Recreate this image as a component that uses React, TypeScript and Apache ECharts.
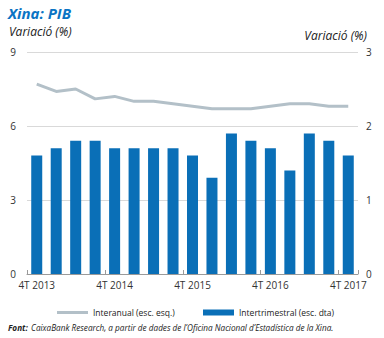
import React, { useEffect, useRef } from "react";
import * as echarts from "echarts";

const categories = [
  "4T 2013", "1T 2014", "2T 2014", "3T 2014", "4T 2014",
  "1T 2015", "2T 2015", "3T 2015", "4T 2015",
  "1T 2016", "2T 2016", "3T 2016", "4T 2016",
  "1T 2017", "2T 2017", "3T 2017", "4T 2017",
];
const interanual = [7.7, 7.4, 7.5, 7.1, 7.2, 7.0, 7.0, 6.9, 6.8, 6.7, 6.7, 6.7, 6.8, 6.9, 6.9, 6.8, 6.8];
const intertrimestral = [1.6, 1.7, 1.8, 1.8, 1.7, 1.7, 1.7, 1.7, 1.6, 1.3, 1.9, 1.8, 1.7, 1.4, 1.9, 1.8, 1.6];
const leftTicks = [0, 3, 6, 9];
const rightTicks = [0, 1, 2, 3];

const FONT = "'Liberation Sans Narrow', 'Open Sans', sans-serif";

export default function App() {
  const ref = useRef<HTMLDivElement>(null);
  useEffect(() => {
    if (!ref.current) return;
    const chart = echarts.init(ref.current, null, { renderer: "svg" });
    chart.setOption({
      animation: false,
      backgroundColor: "#ffffff",
      textStyle: { fontFamily: FONT },
      grid: { left: 27, right: 26, top: 52, bottom: 64, containLabel: false },
      legend: [
        {
          data: ["Interanual (esc. esq.)"],
          left: 52,
          top: 303,
          icon: "rect",
          itemWidth: 31,
          itemHeight: 3,
          itemGap: 6,
          textStyle: { fontSize: 8.5, color: "#222", fontFamily: FONT },
          selectedMode: false,
        },
        {
          data: ["Intertrimestral (esc. dta)"],
          left: 198,
          top: 303,
          icon: "rect",
          itemWidth: 31,
          itemHeight: 6,
          textStyle: { fontSize: 8.5, color: "#222", fontFamily: FONT },
          selectedMode: false,
        },
      ],
      xAxis: {
        type: "category",
        data: categories,
        boundaryGap: true,
        axisLine: { lineStyle: { color: "#9a9a9a", width: 1 } },
        axisTick: { show: true, interval: 3, inside: true, length: 4, lineStyle: { color: "#9a9a9a" } },
        axisLabel: { interval: 3, fontSize: 10, color: "#333", margin: 6, fontFamily: FONT },
      },
      yAxis: [
        {
          type: "value",
          min: leftTicks[0],
          max: leftTicks[leftTicks.length - 1],
          interval: 3,
          axisLine: { show: false },
          axisTick: { show: false },
          splitLine: { lineStyle: { color: "#d9d9d9", width: 1 } },
          axisLabel: { fontSize: 10, color: "#333", margin: 11, fontFamily: FONT },
        },
        {
          type: "value",
          min: rightTicks[0],
          max: rightTicks[rightTicks.length - 1],
          interval: 1,
          axisLine: { show: false },
          axisTick: { show: false },
          splitLine: { show: false },
          axisLabel: { fontSize: 10, color: "#333", margin: 8, fontFamily: FONT },
        },
      ],
      series: [
        {
          name: "Intertrimestral (esc. dta)",
          type: "bar",
          yAxisIndex: 1,
          data: intertrimestral,
          barWidth: 11,
          itemStyle: { color: "#0a6fb7" },
        },
        {
          name: "Interanual (esc. esq.)",
          type: "line",
          yAxisIndex: 0,
          data: interanual,
          symbol: "none",
          lineStyle: { color: "#b3c0c8", width: 3 },
          itemStyle: { color: "#b3c0c8" },
        },
      ],
      graphic: [
        {
          type: "text",
          left: 8,
          top: 5,
          style: {
            text: "Xina: PIB",
            font: `italic bold 15px ${FONT}`,
            fill: "#0a74c4",
          },
        },
        {
          type: "text",
          left: 9,
          top: 25,
          style: { text: "Variació (%)", font: `italic 12px ${FONT}`, fill: "#222" },
        },
        {
          type: "text",
          right: 17,
          top: 29,
          style: { text: "Variació (%)", font: `italic 12px ${FONT}`, fill: "#222" },
        },
        {
          type: "text",
          left: 8,
          top: 321,
          style: {
            rich: {
              b: { font: `italic bold 8.2px ${FONT}`, fill: "#222" },
              n: { font: `italic 8.2px ${FONT}`, fill: "#222" },
            },
            text: "{b|Font:} {n|CaixaBank Research, a partir de dades de l’Oficina Nacional d’Estadística de la Xina.}",
          },
        },
      ],
    });
    return () => chart.dispose();
  }, []);
  return (
    <div
      ref={ref}
      style={{ position: "fixed", left: 0, top: 0, width: 384, height: 338 }}
    />
  );
}
